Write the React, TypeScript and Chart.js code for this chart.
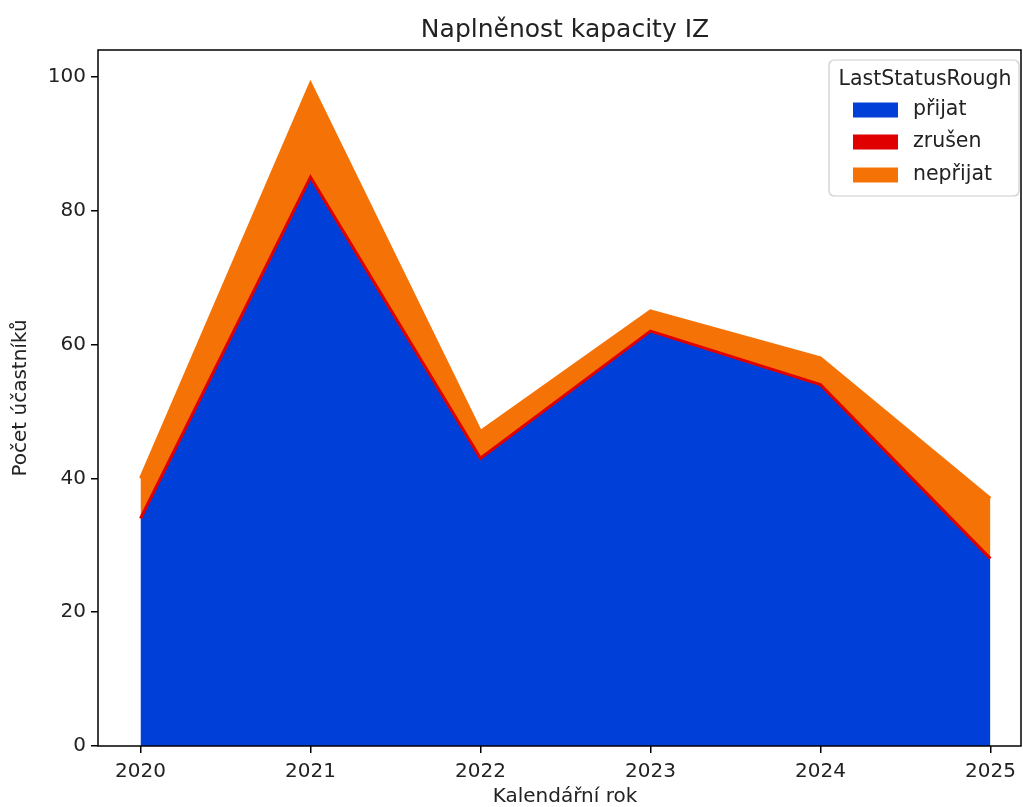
import React, { useEffect, useRef } from "react";
import { Chart, registerables } from "chart.js";

Chart.register(...registerables);

const years = [2020, 2021, 2022, 2023, 2024, 2025];
const prijat = [34, 85, 43, 62, 54, 28];
const zrusen = [0, 0, 0, 0, 0, 0];
const neprijat = [6, 14, 4, 3, 4, 9];
const yTicks = [0, 20, 40, 60, 80, 100];
const seriesNames = ["přijat", "zrušen", "nepřijat"];
const seriesColors = ["#0040D9", "#E00000", "#F57306"];
const chartTitle = "Naplněnost kapacity IZ";
const xTitle = "Kalendářní rok";
const yTitle = "Počet účastníků";
const legendTitle = "LastStatusRough";

const FONT = "'DejaVu Sans', sans-serif";

const textPlugin = {
  id: "textPlugin",
  afterDraw(chart: any) {
    const { ctx, chartArea } = chart;
    ctx.save();
    // axes frame
    ctx.strokeStyle = "#000";
    ctx.lineWidth = 1.5;
    ctx.strokeRect(chartArea.left, chartArea.top, chartArea.right - chartArea.left, chartArea.bottom - chartArea.top);
    ctx.fillStyle = "#222";
    ctx.textAlign = "center";
    ctx.textBaseline = "middle";
    ctx.font = `25px ${FONT}`;
    ctx.fillText(chartTitle, 565, 30);
    ctx.font = `20px ${FONT}`;
    ctx.fillText(xTitle, 565, 797);
    ctx.save();
    ctx.translate(21, 398);
    ctx.rotate(-Math.PI / 2);
    ctx.fillText(yTitle, 0, 0);
    ctx.restore();

    // legend
    const lx = 829, ly = 60, lw = 190, lh = 136, r = 5;
    ctx.beginPath();
    ctx.moveTo(lx + r, ly);
    ctx.arcTo(lx + lw, ly, lx + lw, ly + lh, r);
    ctx.arcTo(lx + lw, ly + lh, lx, ly + lh, r);
    ctx.arcTo(lx, ly + lh, lx, ly, r);
    ctx.arcTo(lx, ly, lx + lw, ly, r);
    ctx.closePath();
    ctx.fillStyle = "rgba(255,255,255,0.8)";
    ctx.fill();
    ctx.strokeStyle = "#cccccc";
    ctx.lineWidth = 1.2;
    ctx.stroke();
    ctx.fillStyle = "#222";
    ctx.textAlign = "center";
    ctx.font = `20.5px ${FONT}`;
    ctx.fillText(legendTitle, 925, 80);
    const rows = [110, 142, 175];
    ctx.textAlign = "left";
    seriesNames.forEach((name, i) => {
      ctx.fillStyle = seriesColors[i];
      ctx.fillRect(853, rows[i] - 7.5, 45, 15);
      ctx.fillStyle = "#222";
      ctx.fillText(name, 913, rows[i]);
    });
    ctx.restore();
  },
};

export default function App() {
  const ref = useRef<HTMLCanvasElement | null>(null);
  useEffect(() => {
    if (!ref.current) return;
    const toPts = (arr: number[]) => years.map((x, i) => ({ x, y: arr[i] }));
    const chart = new Chart(ref.current, {
      type: "line",
      data: {
        datasets: [
          {
            label: seriesNames[0],
            data: toPts(prijat),
            backgroundColor: seriesColors[0],
            borderColor: seriesColors[0],
            borderWidth: 0,
            fill: "origin",
            pointRadius: 0,
            tension: 0,
          },
          {
            label: seriesNames[1],
            data: toPts(zrusen),
            backgroundColor: seriesColors[1],
            borderColor: seriesColors[1],
            borderWidth: 3,
            fill: "-1",
            pointRadius: 0,
            tension: 0,
          },
          {
            label: seriesNames[2],
            data: toPts(neprijat),
            backgroundColor: seriesColors[2],
            borderColor: seriesColors[2],
            borderWidth: 3,
            fill: "-1",
            pointRadius: 0,
            tension: 0,
          },
        ],
      },
      options: {
        animation: false,
        responsive: false,
        maintainAspectRatio: false,
        layout: { padding: { top: 50, right: 2, left: 0, bottom: 0 } },
        plugins: {
          legend: { display: false },
          title: { display: false },
          tooltip: { enabled: false },
          filler: { drawTime: "beforeDatasetsDraw" },
        } as any,
        scales: {
          x: {
            type: "linear",
            min: 2019.75,
            max: 2025.18,
            afterFit: (s: any) => { s.height = 61; },
            afterBuildTicks: (s: any) => { s.ticks = years.map((v) => ({ value: v })); },
            ticks: {
              callback: (v: any) => String(v),
              color: "#222",
              font: { family: FONT, size: 20 },
              padding: 7,
              maxRotation: 0,
              autoSkip: false,
            },
            grid: { drawOnChartArea: false, drawTicks: true, tickLength: 7, color: "#000", lineWidth: 1.5 },
            border: { display: false },
          },
          y: {
            type: "linear",
            stacked: true,
            min: 0,
            max: 104,
            afterFit: (s: any) => { s.width = 98; },
            afterBuildTicks: (s: any) => { s.ticks = yTicks.map((v) => ({ value: v })); },
            ticks: {
              color: "#222",
              font: { family: FONT, size: 20 },
              padding: 5,
              autoSkip: false,
            },
            grid: { drawOnChartArea: false, drawTicks: true, tickLength: 7, color: "#000", lineWidth: 1.5 },
            border: { display: false },
          },
        },
      } as any,
      plugins: [textPlugin],
    });
    return () => chart.destroy();
  }, []);
  return (
    <div style={{ position: "fixed", left: 0, top: 0, width: 1023, height: 807, background: "#fff" }}>
      <canvas ref={ref} width={1023} height={807} style={{ width: 1023, height: 807, display: "block" }} />
    </div>
  );
}
